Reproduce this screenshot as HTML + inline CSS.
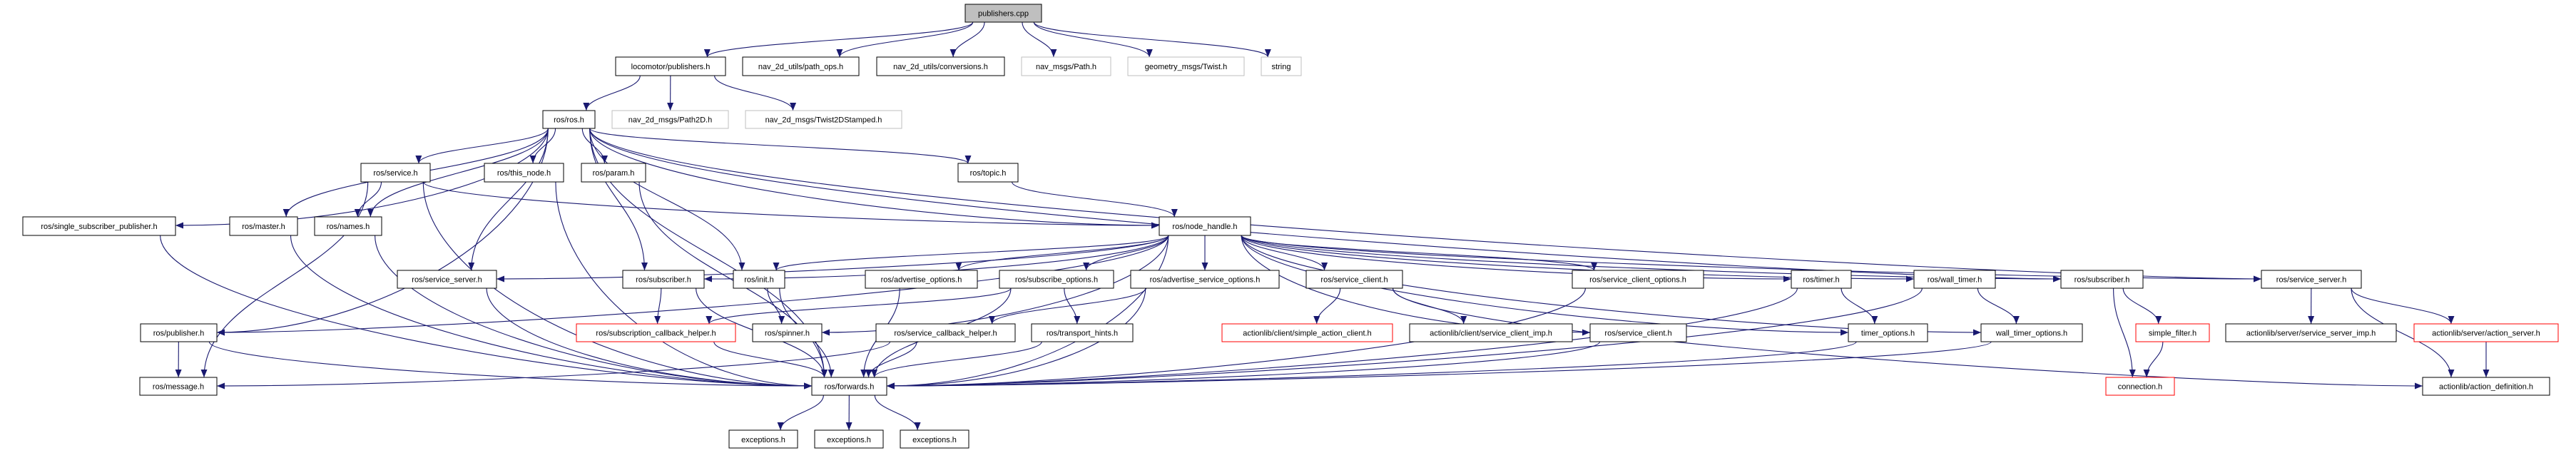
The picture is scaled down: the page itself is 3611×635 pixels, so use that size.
<!DOCTYPE html>
<html><head><meta charset="utf-8"><style>
html,body{margin:0;padding:0;background:#fff;}
svg{display:block;}
text{font-family:"Liberation Sans",sans-serif;font-size:11px;fill:#000;}
</style></head><body>
<svg id="g" width="3611" height="635" viewBox="0 0 3611 635" xmlns="http://www.w3.org/2000/svg">
<defs><marker id="a" markerUnits="userSpaceOnUse" markerWidth="12" markerHeight="10" refX="11" refY="4.5" orient="auto"><path d="M0,0 L11,4.5 L0,9 z" fill="#191970"/></marker></defs>
<g id="edges" fill="none" stroke="#191970" stroke-width="1.1"></g>
<g id="nodes">
<rect x="1353" y="6" width="107" height="25" fill="#bfbfbf" stroke="#000"/><text x="1406.5" y="22.5" text-anchor="middle">publishers.cpp</text>
<rect x="863" y="80" width="154" height="26" fill="#fff" stroke="#000"/><text x="940" y="97" text-anchor="middle">locomotor/publishers.h</text>
<rect x="1041" y="80" width="163" height="26" fill="#fff" stroke="#000"/><text x="1122.5" y="97" text-anchor="middle">nav_2d_utils/path_ops.h</text>
<rect x="1229" y="80" width="179" height="26" fill="#fff" stroke="#000"/><text x="1318.5" y="97" text-anchor="middle">nav_2d_utils/conversions.h</text>
<rect x="1432" y="80" width="125" height="26" fill="#fff" stroke="#bfbfbf"/><text x="1494.5" y="97" text-anchor="middle">nav_msgs/Path.h</text>
<rect x="1581" y="80" width="163" height="26" fill="#fff" stroke="#bfbfbf"/><text x="1662.5" y="97" text-anchor="middle">geometry_msgs/Twist.h</text>
<rect x="1768" y="80" width="56" height="26" fill="#fff" stroke="#bfbfbf"/><text x="1796" y="97" text-anchor="middle">string</text>
<rect x="761" y="155" width="73" height="25" fill="#fff" stroke="#000"/><text x="797.5" y="171.5" text-anchor="middle">ros/ros.h</text>
<rect x="858" y="155" width="163" height="25" fill="#fff" stroke="#bfbfbf"/><text x="939.5" y="171.5" text-anchor="middle">nav_2d_msgs/Path2D.h</text>
<rect x="1045" y="155" width="219" height="25" fill="#fff" stroke="#bfbfbf"/><text x="1154.5" y="171.5" text-anchor="middle">nav_2d_msgs/Twist2DStamped.h</text>
<rect x="506" y="229" width="97" height="26" fill="#fff" stroke="#000"/><text x="554.5" y="246" text-anchor="middle">ros/service.h</text>
<rect x="679" y="229" width="111" height="26" fill="#fff" stroke="#000"/><text x="734.5" y="246" text-anchor="middle">ros/this_node.h</text>
<rect x="815" y="229" width="90" height="26" fill="#fff" stroke="#000"/><text x="860" y="246" text-anchor="middle">ros/param.h</text>
<rect x="1343" y="229" width="84" height="26" fill="#fff" stroke="#000"/><text x="1385" y="246" text-anchor="middle">ros/topic.h</text>
<rect x="32" y="304" width="214" height="26" fill="#fff" stroke="#000"/><text x="139" y="321" text-anchor="middle">ros/single_subscriber_publisher.h</text>
<rect x="322" y="304" width="95" height="26" fill="#fff" stroke="#000"/><text x="369.5" y="321" text-anchor="middle">ros/master.h</text>
<rect x="441" y="304" width="94" height="26" fill="#fff" stroke="#000"/><text x="488" y="321" text-anchor="middle">ros/names.h</text>
<rect x="1625" y="304" width="128" height="26" fill="#fff" stroke="#000"/><text x="1689" y="321" text-anchor="middle">ros/node_handle.h</text>
<rect x="557" y="379" width="139" height="25" fill="#fff" stroke="#000"/><text x="626.5" y="395.5" text-anchor="middle">ros/service_server.h</text>
<rect x="873" y="379" width="114" height="25" fill="#fff" stroke="#000"/><text x="930" y="395.5" text-anchor="middle">ros/subscriber.h</text>
<rect x="1028" y="379" width="72" height="25" fill="#fff" stroke="#000"/><text x="1064" y="395.5" text-anchor="middle">ros/init.h</text>
<rect x="1213" y="379" width="157" height="25" fill="#fff" stroke="#000"/><text x="1291.5" y="395.5" text-anchor="middle">ros/advertise_options.h</text>
<rect x="1401" y="379" width="160" height="25" fill="#fff" stroke="#000"/><text x="1481" y="395.5" text-anchor="middle">ros/subscribe_options.h</text>
<rect x="1585" y="379" width="208" height="25" fill="#fff" stroke="#000"/><text x="1689" y="395.5" text-anchor="middle">ros/advertise_service_options.h</text>
<rect x="1831" y="379" width="135" height="25" fill="#fff" stroke="#000"/><text x="1898.5" y="395.5" text-anchor="middle">ros/service_client.h</text>
<rect x="2204" y="379" width="184" height="25" fill="#fff" stroke="#000"/><text x="2296" y="395.5" text-anchor="middle">ros/service_client_options.h</text>
<rect x="2511" y="379" width="84" height="25" fill="#fff" stroke="#000"/><text x="2553" y="395.5" text-anchor="middle">ros/timer.h</text>
<rect x="2683" y="379" width="114" height="25" fill="#fff" stroke="#000"/><text x="2740" y="395.5" text-anchor="middle">ros/wall_timer.h</text>
<rect x="2889" y="379" width="115" height="25" fill="#fff" stroke="#000"/><text x="2946.5" y="395.5" text-anchor="middle">ros/subscriber.h</text>
<rect x="3170" y="379" width="140" height="25" fill="#fff" stroke="#000"/><text x="3240" y="395.5" text-anchor="middle">ros/service_server.h</text>
<rect x="197" y="454" width="107" height="25" fill="#fff" stroke="#000"/><text x="250.5" y="470.5" text-anchor="middle">ros/publisher.h</text>
<rect x="808" y="454" width="223" height="25" fill="#fff" stroke="#ff0000"/><text x="919.5" y="470.5" text-anchor="middle">ros/subscription_callback_helper.h</text>
<rect x="1055" y="454" width="97" height="25" fill="#fff" stroke="#000"/><text x="1103.5" y="470.5" text-anchor="middle">ros/spinner.h</text>
<rect x="1228" y="454" width="195" height="25" fill="#fff" stroke="#000"/><text x="1325.5" y="470.5" text-anchor="middle">ros/service_callback_helper.h</text>
<rect x="1446" y="454" width="142" height="25" fill="#fff" stroke="#000"/><text x="1517" y="470.5" text-anchor="middle">ros/transport_hints.h</text>
<rect x="1713" y="454" width="239" height="25" fill="#fff" stroke="#ff0000"/><text x="1832.5" y="470.5" text-anchor="middle">actionlib/client/simple_action_client.h</text>
<rect x="1976" y="454" width="228" height="25" fill="#fff" stroke="#000"/><text x="2090" y="470.5" text-anchor="middle">actionlib/client/service_client_imp.h</text>
<rect x="2229" y="454" width="135" height="25" fill="#fff" stroke="#000"/><text x="2296.5" y="470.5" text-anchor="middle">ros/service_client.h</text>
<rect x="2591" y="454" width="111" height="25" fill="#fff" stroke="#000"/><text x="2646.5" y="470.5" text-anchor="middle">timer_options.h</text>
<rect x="2777" y="454" width="142" height="25" fill="#fff" stroke="#000"/><text x="2848" y="470.5" text-anchor="middle">wall_timer_options.h</text>
<rect x="2994" y="454" width="103" height="25" fill="#fff" stroke="#ff0000"/><text x="3045.5" y="470.5" text-anchor="middle">simple_filter.h</text>
<rect x="3120" y="454" width="239" height="25" fill="#fff" stroke="#000"/><text x="3239.5" y="470.5" text-anchor="middle">actionlib/server/service_server_imp.h</text>
<rect x="3384" y="454" width="202" height="25" fill="#fff" stroke="#ff0000"/><text x="3485" y="470.5" text-anchor="middle">actionlib/server/action_server.h</text>
<rect x="196" y="529" width="108" height="25" fill="#fff" stroke="#000"/><text x="250" y="545.5" text-anchor="middle">ros/message.h</text>
<rect x="1138" y="529" width="105" height="25" fill="#fff" stroke="#000"/><text x="1190.5" y="545.5" text-anchor="middle">ros/forwards.h</text>
<rect x="2952" y="529" width="96" height="25" fill="#fff" stroke="#ff0000"/><text x="3000" y="545.5" text-anchor="middle">connection.h</text>
<rect x="3396" y="529" width="178" height="25" fill="#fff" stroke="#000"/><text x="3485" y="545.5" text-anchor="middle">actionlib/action_definition.h</text>
<rect x="1022" y="603" width="96" height="25" fill="#fff" stroke="#000"/><text x="1070" y="620" text-anchor="middle">exceptions.h</text>
<rect x="1142" y="603" width="96" height="25" fill="#fff" stroke="#000"/><text x="1190" y="620" text-anchor="middle">exceptions.h</text>
<rect x="1262" y="603" width="96" height="25" fill="#fff" stroke="#000"/><text x="1310" y="620" text-anchor="middle">exceptions.h</text>
</g>
</svg>
<script>
var N={
pc:[1353,1460,6],lp:[863,1017,80],po:[1041,1204,80],cv:[1229,1408,80],np:[1432,1557,80],gt:[1581,1744,80],st:[1768,1824,80],
ros:[761,834,155],p2:[858,1021,155],t2:[1045,1264,155],
sv:[506,603,229],tn:[679,790,229],pa:[815,905,229],tp:[1343,1427,229],
ssp:[32,246,304],ma:[322,417,304],na:[441,535,304],nh:[1625,1753,304],
ssL:[557,696,379],suL:[873,987,379],in:[1028,1100,379],ao:[1213,1370,379],so:[1401,1561,379],aso:[1585,1793,379],sc:[1831,1966,379],sco:[2204,2388,379],ti:[2511,2595,379],wt:[2683,2797,379],suR:[2889,3004,379],ssR:[3170,3310,379],
pu:[197,304,454],sch:[808,1031,454],sp:[1055,1152,454],svh:[1228,1423,454],th:[1446,1588,454],sac:[1713,1952,454],sci:[1976,2204,454],sc2:[2229,2364,454],to:[2591,2702,454],wto:[2777,2919,454],sf:[2994,3097,454],ssi:[3120,3359,454],as:[3384,3586,454],
me:[196,304,529],fw:[1138,1243,529],co:[2952,3048,529],ad:[3396,3574,529],
e1:[1022,1118,603],e2:[1142,1238,603],e3:[1262,1358,603]};
var E=[["pc","lp"],["pc","po"],["pc","cv"],["pc","np"],["pc","gt"],["pc","st"],["lp","ros"],["lp","p2"],["lp","t2"],
["ros","sv"],["ros","tn"],["ros","pa"],["ros","tp"],["ros","nh"],["ros","ssp"],["ros","ma"],["ros","na"],["ros","pu"],["ros","ssL"],["ros","suL"],["ros","in"],["ros","fw"],["ros","suR"],["ros","ssR"],
["sv","na"],["sv","fw"],["sv","nh"],["sv","me"],["tn","fw"],["pa","fw"],["tp","nh"],["ssp","fw"],["ma","fw"],["na","fw"],
["nh","pu"],["nh","ssL"],["nh","suL"],["nh","in"],["nh","sp"],["nh","ao"],["nh","so"],["nh","aso"],["nh","sc"],["nh","sco"],["nh","ti"],["nh","wt"],["nh","suR"],["nh","ssR"],["nh","to"],["nh","wto"],["nh","sc2"],["nh","fw"],
["ssL","fw"],["suL","sch"],["suL","fw"],["in","sp"],["in","fw"],["ao","fw"],["so","sch"],["so","th"],["so","fw"],["aso","svh"],["aso","fw"],
["sc","sac"],["sc","sci"],["sc","ad"],["sco","fw"],["ti","to"],["ti","fw"],["wt","wto"],["wt","fw"],["suR","sf"],["suR","co"],["ssR","ssi"],["ssR","as"],["ssR","ad"],["as","ad"],["sf","co"],
["pu","me"],["pu","fw"],["sch","fw"],["svh","me"],["svh","fw"],["th","fw"],["sc2","fw"],["to","fw"],["wto","fw"],["fw","e1"],["fw","e2"],["fw","e3"]];
function cl(v,a){return Math.max(-a,Math.min(a,v));}
var g=document.getElementById("edges"),h="";
E.forEach(function(e){var s=N[e[0]],t=N[e[1]];
var sc=(s[0]+s[1])/2,tc=(t[0]+t[1])/2,sw=s[1]-s[0],tw=t[1]-t[0],sh=s[2]==6||s[2]==155||s[2]==379||s[2]==454||s[2]==529?25:26,th=25;
var d;
if(t[2]==s[2]){var sx=tc>sc?s[1]:s[0],ex=tc>sc?t[0]:t[1],y=s[2]+12;d="M"+sx+","+y+" L"+ex+","+y;}
else{var sx=sc+cl((tc-sc)*0.3,sw/2.5),sy=s[2]+sh;var dx=tc-sc;var ex,ey;
 if(Math.abs(dx)>450&&(t[2]-s[2])>80||(Math.abs(dx)>700)){ex=dx>0?t[0]:t[1];ey=t[2]+12;var dy=ey-sy;
  d="M"+sx+","+sy+" C"+sx+","+(sy+dy*0.5)+" "+(ex-(dx>0?1:-1)*Math.min(300,Math.abs(dx)*0.4))+","+ey+" "+ex+","+ey;}
 else{ex=tc+cl((sc-tc)*0.2,tw/3);ey=t[2];var dy=ey-sy;
  d="M"+sx+","+sy+" C"+sx+","+(sy+dy*0.45)+" "+ex+","+(ey-dy*0.45)+" "+ex+","+ey;}}
h+='<path d="'+d+'" marker-end="url(#a)"/>';});
g.innerHTML=h;
</script>
</body></html>
